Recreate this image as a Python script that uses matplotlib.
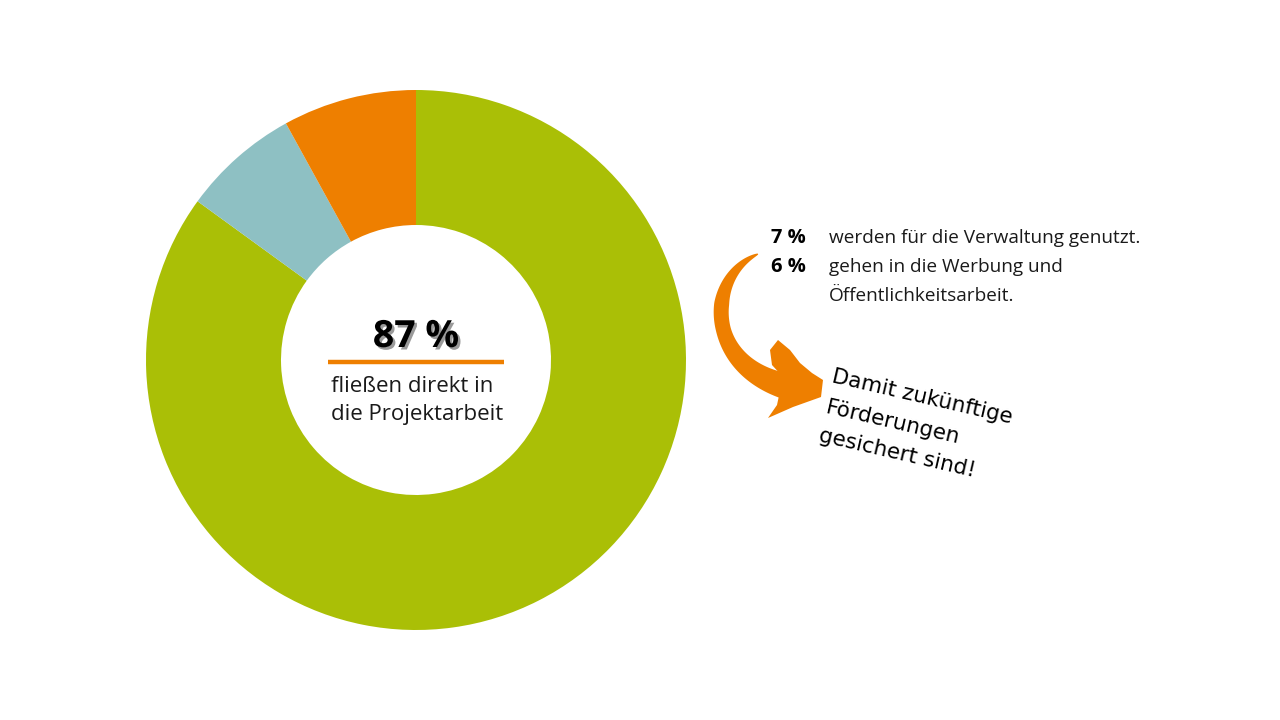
import numpy as np
import matplotlib
matplotlib.use("Agg")
import matplotlib.pyplot as plt
from matplotlib.patches import Polygon
import matplotlib.patheffects as pe

# slice sizes as drawn (share of the ring), clockwise from 12 o'clock
slices = ["Projektarbeit", "Verwaltung", "Werbung"]
slice_values = [85, 7, 8]
slice_colors = ["#AABF06", "#8EC0C3", "#EE7F00"]

center_value = "87 %"
center_text = ["fließen direkt in", "die Projektarbeit"]
side_values = ["7 %", "6 %"]
side_text = ["werden für die Verwaltung genutzt.", "gehen in die Werbung und", "Öffentlichkeitsarbeit."]
note_lines = ["Damit zukünftige", "Förderungen", "gesichert sind!"]

W, H = 1280, 720
plt.rcParams['font.family'] = ['Open Sans', 'DejaVu Sans']

fig = plt.figure(figsize=(12.8, 7.2), dpi=100)
ax = fig.add_axes([0, 0, 1, 1])

def Y(y):
    return H - y

# donut
ax.pie(slice_values, colors=slice_colors, startangle=90, counterclock=False,
       center=(416, Y(360)), radius=270, wedgeprops=dict(width=135, linewidth=0))

# centre label
ax.text(416, Y(337), center_value, ha='center', va='center', fontsize=27,
        fontweight='bold', color='black',
        path_effects=[pe.withSimplePatchShadow(offset=(1.8, -1.8), shadow_rgbFace='#9a9a9a', alpha=1)])
ax.plot([328, 504], [Y(362), Y(362)], color='#EE7F00', lw=3.2, solid_capstyle='butt')
ax.text(331, Y(392), center_text[0], ha='left', va='baseline', fontsize=16, color='#1a1a1a')
ax.text(331, Y(420), center_text[1], ha='left', va='baseline', fontsize=16, color='#1a1a1a')

# side notes
ax.text(806, Y(243), side_values[0], ha='right', va='baseline', fontsize=14.5, fontweight='bold', color='black')
ax.text(806, Y(272), side_values[1], ha='right', va='baseline', fontsize=14.5, fontweight='bold', color='black')
for i, line in enumerate(side_text):
    ax.text(829, Y(243 + 29 * i), line, ha='left', va='baseline', fontsize=13.7, color='#1a1a1a')

# curved arrow
P = np.array([[758, 254], [706, 276], [704, 364], [785, 386]], dtype=float)
t = np.linspace(0, 1, 100)[:, None]
curve = ((1 - t) ** 3 * P[0] + 3 * (1 - t) ** 2 * t * P[1]
         + 3 * (1 - t) * t ** 2 * P[2] + t ** 3 * P[3])
d = ((-3 * (1 - t) ** 2) * P[0] + (3 * (1 - t) ** 2 - 6 * (1 - t) * t) * P[1]
     + (6 * (1 - t) * t - 3 * t ** 2) * P[2] + 3 * t ** 2 * P[3])
d = d / np.linalg.norm(d, axis=1, keepdims=True)
nrm = np.column_stack([-d[:, 1], d[:, 0]])
tt = t[:, 0]
wid = 1 + 14 * np.clip(tt / 0.4, 0, 1) ** 0.7 + 11 * np.clip((tt - 0.55) / 0.45, 0, 1) ** 1.5
left = curve + nrm * wid[:, None] / 2
right = curve - nrm * wid[:, None] / 2
body = np.vstack([left, right[::-1]])
body[:, 1] = H - body[:, 1]
ax.add_patch(Polygon(body, closed=True, facecolor='#EE7F00', edgecolor='none'))
head = np.array([[778, 340], [790, 350], [800, 363], [812, 373], [823, 380], [821, 397],
                 [793, 407], [768, 418], [777, 405], [783, 377], [772, 365], [770, 350]],
                dtype=float)
head[:, 1] = H - head[:, 1]
ax.add_patch(Polygon(head, closed=True, facecolor='#EE7F00', edgecolor='none'))

# handwritten note
note_pos = [(831, 382), (825, 413), (818, 441)]
for (x, y), line in zip(note_pos, note_lines):
    ax.text(x, Y(y), line, ha='left', va='baseline', fontsize=15.5, rotation=-13,
            rotation_mode='anchor', color='black', family='DejaVu Sans')

ax.set_xlim(0, W)
ax.set_ylim(0, H)
ax.set_aspect('equal')
ax.axis('off')
fig.savefig("out.png", dpi=100, facecolor='white')
